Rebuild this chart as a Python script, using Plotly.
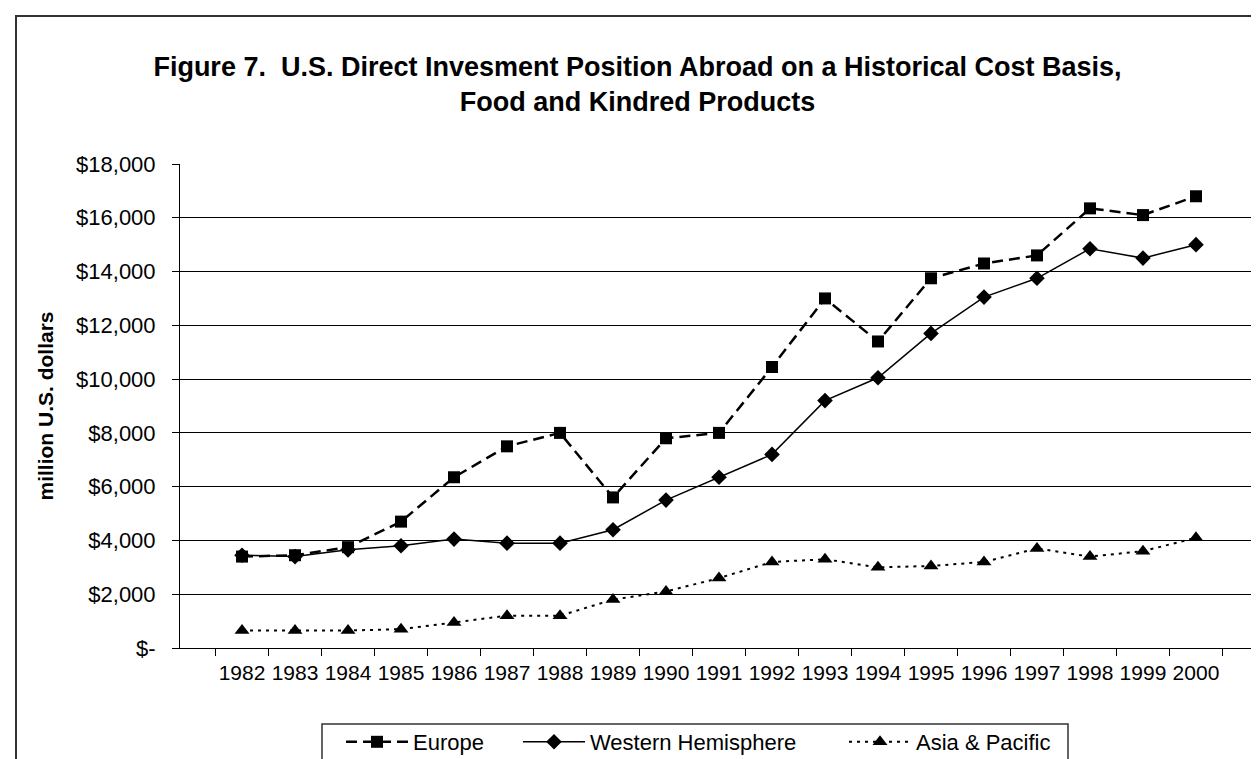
import plotly.graph_objects as go

# data (million U.S. dollars)
years = [str(y) for y in range(1982, 2001)]
europe = [3400, 3450, 3750, 4700, 6350, 7500, 8000, 5600, 7800, 8000,
          10450, 13000, 11400, 13750, 14300, 14600, 16350, 16100, 16800]
western_hemisphere = [3450, 3400, 3650, 3800, 4050, 3900, 3900, 4400, 5500, 6350,
                      7200, 9200, 10050, 11700, 13050, 13750, 14850, 14500, 15000]
asia_pacific = [650, 650, 650, 700, 950, 1200, 1200, 1800, 2100, 2600,
                3200, 3300, 3000, 3050, 3200, 3700, 3400, 3600, 4100]

y_ticks = list(range(0, 18001, 2000))
y_labels = ["$-"] + [f"${v:,}" for v in y_ticks[1:]]

FONT = "Liberation Sans, Arial, sans-serif"

fig = go.Figure()
fig.add_trace(go.Scatter(
    x=years, y=europe, name="Europe", mode="lines+markers", legend="legend",
    line=dict(color="black", width=2.5, dash="11px,6px"),
    marker=dict(symbol="square", size=12, color="black"),
))
fig.add_trace(go.Scatter(
    x=years, y=western_hemisphere, name="Western Hemisphere", mode="lines+markers",
    legend="legend2",
    line=dict(color="black", width=1.5),
    marker=dict(symbol="diamond", size=12, color="black"),
))
fig.add_trace(go.Scatter(
    x=years, y=asia_pacific, name="Asia & Pacific", mode="lines+markers",
    legend="legend3",
    line=dict(color="black", width=2, dash="3px,5px"),
    marker=dict(symbol="triangle-up", size=13, color="black"),
))

# plot area position in pixels
left, right, top, bottom = 172, 9, 156, 119
pw, ph = 1259 - left - right, 759 - top - bottom

def px_x(p):
    return (p - left) / pw

def px_y(p):
    return (759 - bottom - p) / ph

# chart area border
fig.add_shape(type="rect", xref="paper", yref="paper",
              x0=px_x(8), x1=px_x(1256), y0=px_y(775), y1=px_y(8),
              line=dict(color="#333333", width=2), layer="below")
# right edge of the plot area
fig.add_shape(type="line", xref="paper", yref="paper",
              x0=1, x1=1, y0=0, y1=1, line=dict(color="#808080", width=1))
# legend box
fig.add_shape(type="rect", xref="paper", yref="paper",
              x0=px_x(314), x1=px_x(1060), y0=px_y(775), y1=px_y(716),
              line=dict(color="#333333", width=1.5), fillcolor="white", layer="below")

legend_style = dict(orientation="h", xanchor="left", yanchor="middle", y=px_y(734),
                    bgcolor="rgba(0,0,0,0)", borderwidth=0,
                    font=dict(family=FONT, size=22), itemwidth=62)

fig.update_layout(
    width=1259, height=759,
    margin=dict(l=left, r=right, t=top, b=bottom, autoexpand=False),
    paper_bgcolor="white", plot_bgcolor="white",
    font=dict(family=FONT, size=22, color="black"),
    title=dict(
        text="<b>Figure 7.  U.S. Direct Invesment Position Abroad on a Historical Cost Basis,<br>Food and Kindred Products</b>",
        x=0.5, xanchor="center", xref="container",
        y=1 - 68 / 759, yref="container", yanchor="middle",
        font=dict(family=FONT, size=27),
    ),
    xaxis=dict(
        type="category", showline=True, linecolor="black", linewidth=1,
        ticks="outside", tickson="boundaries", ticklen=7, tickcolor="black",
        ticklabelstandoff=6, tickangle=0,
        showgrid=False, tickfont=dict(size=21), automargin=False,
    ),
    yaxis=dict(
        range=[0, 18000], tickvals=y_ticks, ticktext=y_labels,
        showline=True, linecolor="black", linewidth=1,
        ticks="outside", ticklen=7, tickcolor="black", ticklabelstandoff=12,
        tickfont=dict(size=22),
        showgrid=True, gridcolor="black", gridwidth=1, zeroline=False,
        automargin=False,
        title=dict(text="<b>million U.S. dollars</b>", font=dict(size=21), standoff=16),
    ),
    legend=dict(legend_style, x=px_x(333)),
    legend2=dict(legend_style, x=px_x(510)),
    legend3=dict(legend_style, x=px_x(836)),
    showlegend=True,
)

fig.write_html("out.html")
